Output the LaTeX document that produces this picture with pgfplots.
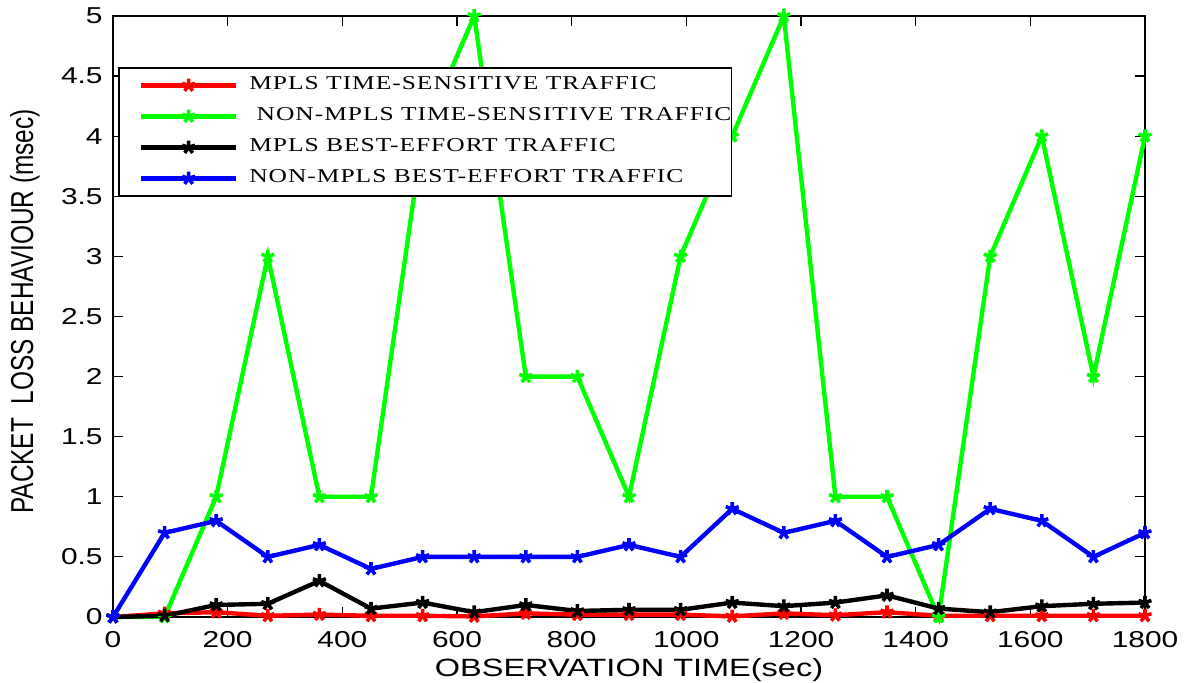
\documentclass[border=0pt]{standalone}
\usepackage{fontspec}
\setmainfont{Liberation Sans}[FakeStretch=1.3]
\newfontfamily\plainsans{Liberation Sans}
\newfontfamily\legfont{Liberation Serif}[FakeStretch=1.3,LetterSpace=5]
\usepackage{pgfplots}
\pgfplotsset{compat=1.18}
\usepackage{pgfplotstable}
\pgfplotstableread{
t red green black blue
0 0 0 0 0
90 0.03 0 0.01 0.7
180 0.04 1 0.1 0.8
270 0.01 3 0.11 0.5
360 0.02 1 0.3 0.6
450 0.01 1 0.07 0.4
540 0.01 4 0.12 0.5
630 0.005 5 0.04 0.5
720 0.03 2 0.1 0.5
810 0.02 2 0.05 0.5
900 0.02 1 0.06 0.6
990 0.02 3 0.06 0.5
1080 0.005 4 0.12 0.9
1170 0.03 5 0.09 0.7
1260 0.015 1 0.12 0.8
1350 0.04 1 0.18 0.5
1440 0.01 0 0.07 0.6
1530 0.01 3 0.04 0.9
1620 0.01 4 0.09 0.8
1710 0.01 2 0.11 0.5
1800 0.01 4 0.12 0.7
}\data
\definecolor{mred}{RGB}{255,0,0}
\definecolor{mgreen}{RGB}{0,255,0}
\definecolor{mblue}{RGB}{0,0,255}
\begin{document}
\begin{tikzpicture}
\begin{axis}[
  scale only axis,
  width=516pt, height=300.5pt,
  xmin=0, xmax=1800, ymin=0, ymax=5,
  xtick={0,200,...,1800},
  ytick={0,0.5,1,1.5,2,2.5,3,3.5,4,4.5,5},
  /pgf/number format/1000 sep={},
  tick align=inside,
  major tick length=5pt,
  axis line style={line width=0.8pt},
  every tick/.style={black, line width=0.6pt},
  clip=false,
  /pgf/number format/assume math mode=true,
  ticklabel style={font=\fontsize{11.5}{12}\selectfont},
  xticklabel style={anchor=base, yshift=-15.5pt, inner sep=0pt},
  yticklabel style={anchor=east, inner sep=0pt, xshift=-5pt},
  xlabel={OBSERVATION TIME(sec)},
  xlabel style={font=\fontsize{12.5}{13}\selectfont, at={(rel axis cs:0.5,0)}, anchor=base, yshift=-30pt, inner sep=0pt},
  ylabel={\scalebox{1}[1.3]{\plainsans\fontsize{12.2}{13}\selectfont PACKET\ \ LOSS BEHAVIOUR (msec)}},
  ylabel style={at={(rel axis cs:0,0.5)}, anchor=center, yshift=44pt, xshift=2.5pt, inner sep=0pt},
  legend style={at={(rel axis cs:0.005,0.915)}, anchor=north west, draw=black, line width=0.8pt, fill=white,
    font=\legfont\fontsize{9.8}{11}\selectfont, inner xsep=0pt, inner ysep=1pt,
    nodes={inner xsep=0pt, inner ysep=0pt, text height=10pt, text depth=5.5pt}},
  legend cell align=left,
  legend image code/.code={%
    \path (-10pt,0pt) (53pt,0pt);
    \draw[mark repeat=2,mark phase=2] plot coordinates {(0pt,0pt) (23.75pt,0pt) (47.5pt,0pt)};},
  every axis plot/.append style={line width=2.2pt, mark=star, mark size=3.4pt, mark options={line width=1.8pt}},
]
\addplot[color=mred] table[x=t,y=red] {\data};
\addlegendentry{MPLS TIME-SENSITIVE TRAFFIC}
\addplot[color=mgreen] table[x=t,y=green] {\data};
\addlegendentry{\ NON-MPLS TIME-SENSITIVE TRAFFIC\hspace{8.5pt}}
\addplot[color=black] table[x=t,y=black] {\data};
\addlegendentry{MPLS BEST-EFFORT TRAFFIC}
\addplot[color=mblue] table[x=t,y=blue] {\data};
\addlegendentry{NON-MPLS BEST-EFFORT TRAFFIC}
\coordinate (ll) at (rel axis cs:0,0);
\coordinate (ur) at (rel axis cs:1,1);
\end{axis}
\pgfresetboundingbox
\path ([shift={(-56.5pt,-33pt)}]ll) rectangle ([shift={(20.5pt,8pt)}]ur);
\end{tikzpicture}
\end{document}
